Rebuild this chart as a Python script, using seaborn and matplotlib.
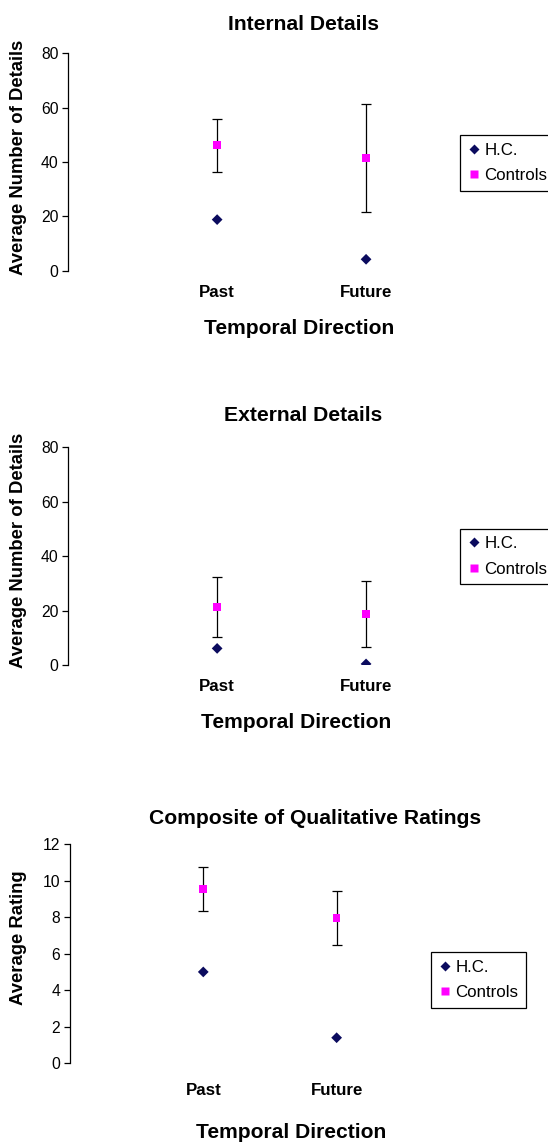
import numpy as np
import pandas as pd
import matplotlib
matplotlib.use("Agg")
import matplotlib.pyplot as plt
import seaborn as sns

# --- data ---
directions = ["Past", "Future"]
groups = ["H.C.", "Controls"]

internal_hc = [18.8, 4.2]
internal_ctrl = [46.2, 41.4]
internal_err = [9.8, 19.8]

external_hc = [6.2, 0.5]
external_ctrl = [21.5, 18.8]
external_err = [11.0, 12.0]

rating_hc = [5.0, 1.4]
rating_ctrl = [9.55, 7.95]
rating_err = [1.2, 1.5]

W, H = 548, 1142

sns.set_style("white")
plt.rcParams["font.family"] = ["Liberation Sans", "DejaVu Sans"]
plt.rcParams["text.color"] = "black"
plt.rcParams["xtick.color"] = "black"
plt.rcParams["ytick.color"] = "black"
plt.rcParams["axes.labelcolor"] = "black"

fig = plt.figure(figsize=(W / 100, H / 100), dpi=100)

palette = {"H.C.": "#0b0b5e", "Controls": "#ff00ff"}
markers = {"H.C.": "D", "Controls": "s"}


def px_axes(left, right, top, bottom):
    return fig.add_axes([left / W, 1 - bottom / H, (right - left) / W, (bottom - top) / H])


def panel(ax, hc, ctrl, err, ymax, ystep, title, ylabel, title_xy, ylabel_xy,
          xlabel_xy, legend_xy, tick_pad):
    xpos = np.arange(1, len(directions) + 1)
    df = pd.DataFrame({
        "x": np.concatenate([xpos, xpos]),
        "value": hc + ctrl,
        "group": [groups[0]] * len(hc) + [groups[1]] * len(ctrl),
    })
    ax.errorbar(xpos, ctrl, yerr=err, fmt="none", ecolor="black",
                elinewidth=0.9, capsize=3.5, capthick=0.9, zorder=1)
    sns.scatterplot(data=df, x="x", y="value", hue="group", style="group",
                    palette=palette, markers=markers, s=30, edgecolor="none",
                    ax=ax, zorder=3, legend=True)
    ax.set_xlim(0, 3)
    ax.set_ylim(0, ymax)
    ax.set_yticks(np.arange(0, ymax + ystep / 2, ystep))
    ax.set_xticks(xpos)
    ax.set_xticklabels(directions, fontsize=12.2, fontweight="bold")
    ax.tick_params(axis="x", length=0, pad=tick_pad)
    ax.tick_params(axis="y", length=4, width=0.9, direction="out", left=True,
                   labelsize=11.3, pad=3, color="black")
    ax.set_xlabel("")
    ax.set_ylabel("")
    for side in ["top", "right", "bottom"]:
        ax.spines[side].set_visible(False)
    ax.spines["left"].set_color("black")
    ax.spines["left"].set_linewidth(0.9)
    ax.spines["left"].set_zorder(0)

    fig.text(title_xy[0] / W, 1 - title_xy[1] / H, title, ha="center",
             va="center", fontsize=15.2, fontweight="bold")
    fig.text(ylabel_xy[0] / W, 1 - ylabel_xy[1] / H, ylabel, ha="center",
             va="center", rotation=90, fontsize=13.3, fontweight="bold")
    fig.text(xlabel_xy[0] / W, 1 - xlabel_xy[1] / H, "Temporal Direction",
             ha="center", va="center", fontsize=15.1, fontweight="bold")

    handles, labels = ax.get_legend_handles_labels()
    leg = ax.legend(handles, labels, loc="upper left",
                    bbox_to_anchor=(legend_xy[0] / W, 1 - legend_xy[1] / H),
                    bbox_transform=fig.transFigure, fontsize=12.2, frameon=True,
                    fancybox=False, edgecolor="black", framealpha=1,
                    borderpad=0.45, handletextpad=0.2, handlelength=0.8,
                    labelspacing=0.62, borderaxespad=0)
    leg.get_frame().set_linewidth(0.9)


ax1 = px_axes(68.2, 515, 53.3, 270.7)
panel(ax1, internal_hc, internal_ctrl, internal_err, 80, 20,
      "Internal Details", "Average Number of Details",
      (303, 24), (19, 157), (299, 329), (460, 135), 10)

ax2 = px_axes(68.2, 515, 447.3, 665.3)
panel(ax2, external_hc, external_ctrl, external_err, 80, 20,
      "External Details", "Average Number of Details",
      (303, 415), (19, 550), (296, 722), (460, 528.5), 10)

ax3 = px_axes(69.9, 470, 844, 1063.3)
panel(ax3, rating_hc, rating_ctrl, rating_err, 12, 2,
      "Composite of Qualitative Ratings", "Average Rating",
      (314.6, 818), (19, 938), (291, 1132), (431, 952), 14)

fig.savefig("out.png", dpi=100, facecolor="white")
